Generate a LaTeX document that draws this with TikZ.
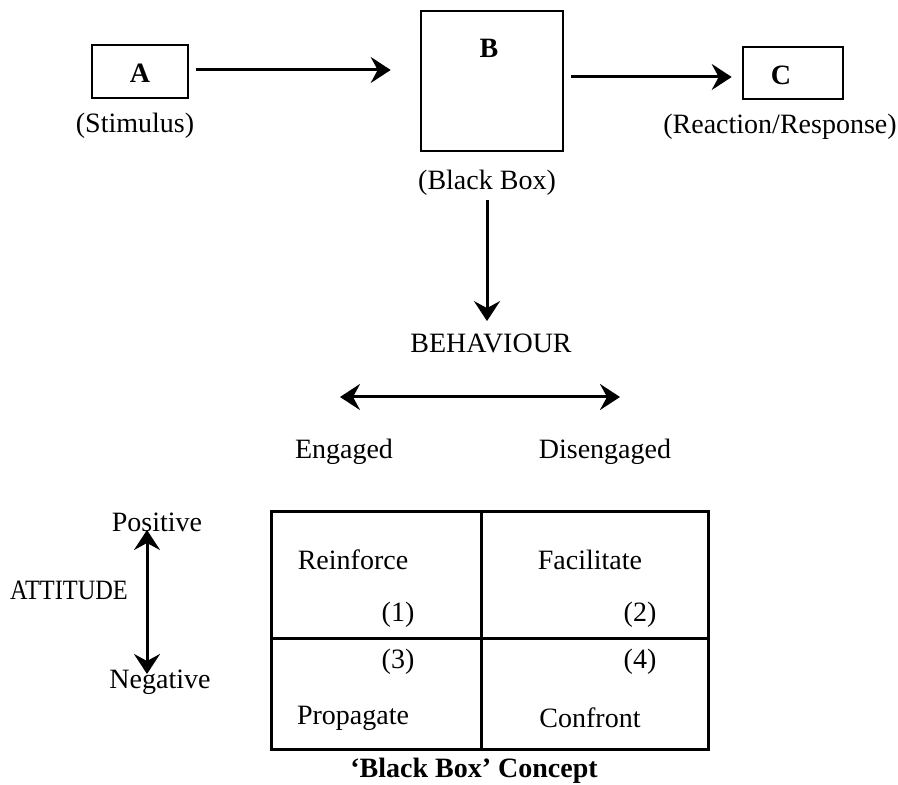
\documentclass[tikz,border=0pt]{standalone}
\usepackage{fontspec}
\setmainfont{Liberation Serif}
\usetikzlibrary{arrows.meta}
\tikzset{
  lbl/.style={inner sep=0pt, font=\fontsize{14}{16}\selectfont},
  boldlbl/.style={lbl, font=\fontsize{14}{16}\selectfont\bfseries},
  boxnode/.style={draw, line width=1.3pt, inner sep=0pt},
  cell/.style={draw, line width=1.3pt, inner sep=0pt, anchor=north west},
  arr/.style={line width=1.5pt, -{Stealth[length=10pt,width=13pt,inset=3.5pt]}},
  darr/.style={line width=1.5pt, {Stealth[length=10pt,width=13pt,inset=3.5pt]}-{Stealth[length=10pt,width=13pt,inset=3.5pt]}}
}
\begin{document}
\begin{tikzpicture}[x=0.5pt,y=-0.5pt]
\useasboundingbox (0,0) rectangle (898,785);
% top row boxes
\node[boxnode, minimum width=48pt, minimum height=26.5pt] (A) at (140,71.5) {};
\node[boldlbl] (Atxt) at (140,73) {A};
\node[lbl] (stim) at (135,126) {(Stimulus)};
\node[boxnode, minimum width=71pt, minimum height=70pt] (B) at (492,81) {};
\node[boldlbl] (Btxt) at (489,48) {B};
\node[lbl] (bbox) at (487,183) {(Black Box)};
\node[boxnode, minimum width=50pt, minimum height=26pt] (C) at (793,73) {};
\node[boldlbl] (Ctxt) at (781,75) {C};
\node[lbl] (resp) at (780,127) {(Reaction/Response)};
\draw[arr, shorten <=3.5pt, shorten >=14.5pt] (A.east |- 0,70) -- (B.west |- 0,70);
\draw[arr, shorten <=3.5pt, shorten >=5pt] (B.east |- 0,77) -- (C.west |- 0,77);
% behaviour
\node[lbl] (beh) at (491,343) {BEHAVIOUR};
\draw[arr, shorten <=2pt, shorten >=6pt] (bbox.south -| 487,0) -- (beh.north -| 487,0);
\coordinate (eL) at (340,397);
\coordinate (eR) at (620,397);
\draw[darr] (eL) -- (eR);
\node[lbl] (eng) at (344,452) {Engaged};
\node[lbl] (dis) at (605,452) {Disengaged};
% attitude
\node[lbl] (pos) at (157,522) {Positive};
\node[lbl] (neg) at (160,682) {Negative};
\node[lbl, xscale=0.87] (att) at (69,590) {ATTITUDE};
\coordinate (pT) at (147,530);
\coordinate (pB) at (147,674);
\draw[darr] (pT) -- (pB);
% grid
\node[cell, minimum width=105pt, minimum height=63.5pt] (c1) at (270,510) {};
\node[cell, minimum width=113.5pt, minimum height=63.5pt] (c2) at (480,510) {};
\node[cell, minimum width=105pt, minimum height=55.5pt] (c3) at (270,637) {};
\node[cell, minimum width=113.5pt, minimum height=55.5pt] (c4) at (480,637) {};
\node[lbl] (r) at (353,560) {Reinforce};
\node[lbl] (n1) at (398,615) {(1)};
\node[lbl] (f) at (590,560) {Facilitate};
\node[lbl] (n2) at (640,615) {(2)};
\node[lbl] (n3) at (398,662) {(3)};
\node[lbl] (n4) at (640,662) {(4)};
\node[lbl] (p) at (353,718) {Propagate};
\node[lbl] (cf) at (590,718) {Confront};
\node[boldlbl] (title) at (474,771) {`Black Box' Concept};
\end{tikzpicture}
\end{document}
